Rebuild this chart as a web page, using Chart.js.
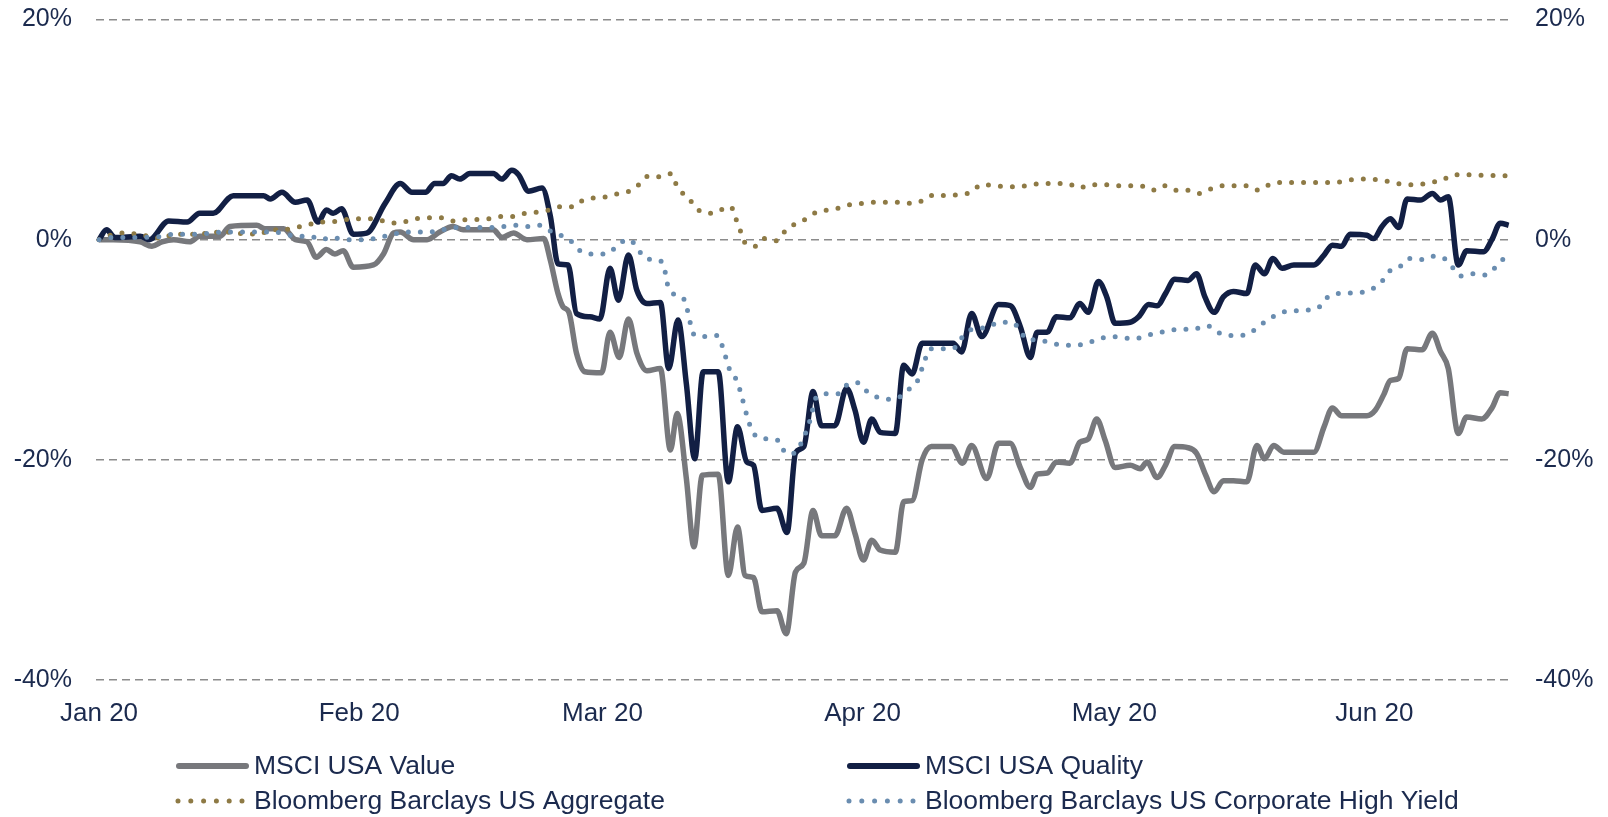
<!DOCTYPE html>
<html>
<head>
<meta charset="utf-8">
<title>MSCI USA factors vs bonds, 2020</title>
<script src="https://cdn.jsdelivr.net/npm/chart.js@4.4.1/dist/chart.umd.min.js"></script>
<style>
  html, body { margin: 0; padding: 0; background: #fff; }
  #wrap { width: 1608px; height: 817px; }
</style>
</head>
<body>
<div id="wrap"><canvas id="lineChart" width="1608" height="817"></canvas></div>
<script>
// x = days since 1 Jan 2020, y = cumulative return in %
const monthDays = [0, 31, 60, 91, 121, 152];
const monthLabels = ['Jan 20', 'Feb 20', 'Mar 20', 'Apr 20', 'May 20', 'Jun 20'];

const valueDays = [0, 1.7, 4.9, 6.3, 7.5, 8.9, 10.8, 12, 14.4, 15.6, 18.8, 19.8, 22, 23.4, 24.8, 25.9, 27.1, 28.1, 29.1, 30.3,
  32.7, 33.9, 35.1, 35.9, 37.5, 39.1, 40.6, 42.2, 43.4, 47, 48, 49.4, 51, 53, 53.8, 54.7, 55.3, 56, 56.9, 57.9,
  59.9, 60.9, 62, 63.1, 64.1, 65.3, 66.9, 68.1, 68.9, 70, 70.9, 71.9, 73.8, 75, 76.1, 77, 78, 79, 80.8, 81.9,
  83, 84, 85.1, 86.1, 87.7, 89.1, 90.1, 91.1, 92.1, 93.1, 94.9, 95.9, 96.9, 98.1, 99.2, 101.6, 102.9, 104, 105.8, 107.2,
  108.6, 109.8, 111, 111.8, 113, 114.1, 115.7, 116.9, 117.9, 118.9, 119.9, 121.1, 122.9, 124.1, 124.9, 126.1, 127.1, 128.2, 129.8, 130.8,
  131.9, 132.9, 134, 135.2, 136.8, 138, 138.9, 140, 141.2, 144.8, 146, 147, 148.1, 151.1, 152.1, 153.1, 153.9, 154.9, 155.9, 157.7,
  158.9, 159.9, 160.8, 162, 163, 164.8, 166, 167, 168];
const valueSeries = [0, 0, -0.2, -0.6, -0.2, 0, -0.2, 0.3, 0.3, 1.2, 1.3, 1.0, 1.0, 0, -0.2, -1.6, -0.9, -1.3, -1.0, -2.5,
  -2.3, -1.3, 0.6, 0.7, 0, 0, 0.7, 1.2, 0.9, 0.9, 0.2, 0.6, 0, 0.1, -1.9, -4.9, -6.1, -6.6, -10.3, -12.0,
  -12.1, -8.4, -10.7, -7.2, -10.3, -11.9, -11.7, -19.1, -15.8, -21.7, -27.9, -21.4, -21.3, -30.5, -26.1, -30.5, -30.7, -33.8, -33.7, -35.8,
  -30.2, -29.4, -24.6, -26.9, -26.9, -24.4, -26.7, -29.1, -27.3, -28.2, -28.4, -23.8, -23.7, -20.0, -18.8, -18.8, -20.3, -18.7, -21.7, -18.5,
  -18.5, -20.7, -22.5, -21.3, -21.2, -20.2, -20.3, -18.4, -18.1, -16.3, -18.2, -20.7, -20.5, -20.8, -20.2, -21.6, -20.5, -18.8, -18.9, -19.4,
  -21.4, -22.9, -21.9, -21.9, -22.0, -18.7, -19.9, -18.7, -19.3, -19.3, -17.0, -15.3, -16.0, -16.0, -15.5, -14.1, -12.8, -12.6, -9.9, -10.0,
  -8.5, -10.2, -11.7, -17.6, -16.1, -16.3, -15.3, -13.9, -14.0];

const qualityDays = [0, 0.9, 1.9, 4.9, 6, 8.3, 10.5, 12, 13.6, 16, 19.6, 20.4, 21.8, 23.4, 24.8, 26.1, 27.1, 27.9, 28.9, 30.3,
  31.9, 34.1, 35.9, 37.3, 38.9, 40, 41, 42, 43, 44.2, 47, 48, 49.2, 50, 51.2, 52.8, 53.8, 54.7, 55.9, 56.9,
  58.5, 59.7, 60.9, 61.9, 63.1, 64.1, 65.3, 66.9, 67.9, 69, 70, 71, 72, 73.8, 75, 76.1, 77.2, 78, 79, 80.8,
  82, 83, 84, 85.1, 86.1, 87.7, 89.1, 90.1, 91.1, 92.1, 93.1, 94.9, 95.9, 96.9, 98.1, 101.8, 102.8, 104, 105.2, 107.2,
  108.6, 109.8, 111, 111.8, 113, 114.1, 115.7, 116.9, 117.9, 119.1, 120.1, 121.1, 122.9, 123.9, 125.1, 126.1, 127.1, 128.2, 129.8, 130.8,
  131.8, 132.9, 134, 135.2, 136.8, 137.8, 138.9, 139.9, 141, 142.4, 144.8, 146, 147, 148.1, 149.1, 151.1, 151.9, 152.9, 153.9, 154.9,
  155.9, 157.5, 158.9, 159.9, 160.8, 162, 163, 165, 166, 167, 168];
const qualitySeries = [0, 0.9, 0.2, 0.3, 0, 1.7, 1.6, 2.4, 2.4, 4.0, 4.0, 3.7, 4.3, 3.4, 3.6, 1.6, 2.7, 2.4, 2.8, 0.5,
  0.6, 3.3, 5.1, 4.3, 4.3, 5.1, 5.1, 5.8, 5.5, 6.0, 6.0, 5.5, 6.3, 5.9, 4.4, 4.7, 2.1, -2.2, -2.3, -6.7,
  -7.0, -7.2, -2.6, -5.5, -1.4, -4.6, -5.8, -5.7, -11.7, -7.3, -13.1, -19.9, -12.0, -12.0, -22.0, -17.0, -20.2, -20.5, -24.6, -24.4,
  -26.6, -19.4, -18.8, -13.8, -16.9, -16.9, -13.5, -15.5, -18.4, -16.3, -17.5, -17.6, -11.4, -12.2, -9.4, -9.4, -10.2, -6.7, -8.8, -5.9,
  -6.0, -7.9, -10.7, -8.4, -8.4, -7.0, -7.1, -5.8, -6.6, -3.8, -5.2, -7.6, -7.5, -7.0, -5.9, -6.0, -4.9, -3.6, -3.7, -3.1,
  -5.2, -6.6, -5.2, -4.7, -4.9, -2.3, -3.1, -1.7, -2.6, -2.3, -2.3, -1.4, -0.5, -0.6, 0.5, 0.4, 0.1, 1.2, 1.9, 1.1,
  3.7, 3.6, 4.2, 3.6, 3.9, -2.3, -1.0, -1.1, 0, 1.5, 1.3];

const aggregateDays = [0, 1.3, 2.9, 4.5, 6, 7.5, 8.9, 11.6, 13.2, 14.8, 16.2, 19, 20.6, 22, 23.4, 24.8, 26.1, 27.5, 29.1, 30.5,
  32, 33.4, 34.9, 36.3, 37.7, 40.6, 42, 43.4, 46.4, 47.8, 49.4, 50.8, 52.2, 53.7, 55.1, 56.5, 57.7, 59.1, 60.5, 61.9,
  63.2, 64.5, 65.5, 66.9, 68.2, 68.8, 69.7, 70.8, 71.8, 73.2, 74.4, 75.3, 75.9, 76.4, 76.9, 78.2, 79.3, 80.7, 81.8, 82.9,
  84.3, 85.5, 86.9, 88.3, 89.6, 91, 92.5, 95.4, 96.9, 98.3, 99.6, 101, 102.5, 103.9, 105.2, 106.7, 109.6, 111, 114, 115.4,
  116.8, 118.3, 119.7, 121.2, 124.1, 125.6, 126.9, 128.2, 129.7, 131.1, 132.5, 133.9, 136.8, 138.2, 139.5, 141.1, 146.9, 148.4, 149.8, 151.3,
  152.8, 154.2, 155.7, 157.2, 158.6, 160.1, 161.4, 168];
const aggregateSeries = [0, 0.4, 0.6, 0.5, 0.3, 0.1, 0.5, 0.5, 0.6, 0.7, 0.6, 0.5, 0.9, 0.9, 1.1, 1.3, 1.6, 1.6, 1.8, 1.9,
  1.9, 1.8, 1.5, 1.6, 1.9, 2.0, 1.7, 1.8, 1.9, 2.1, 2.1, 2.4, 2.5, 2.7, 3.0, 3.0, 3.6, 3.8, 3.9, 4.2,
  4.4, 5.1, 5.8, 5.7, 6.0, 5.0, 4.1, 3.3, 2.5, 2.4, 2.8, 3.0, 1.9, 0.9, -0.2, -0.6, 0.1, -0.1, 0.8, 1.4,
  1.9, 2.5, 2.7, 2.9, 3.2, 3.3, 3.4, 3.4, 3.3, 3.6, 4.1, 4.0, 4.1, 4.3, 5.0, 4.9, 4.8, 5.0, 5.1, 5.1,
  4.7, 5.0, 5.0, 4.9, 4.9, 4.5, 4.9, 4.5, 4.5, 4.2, 4.6, 4.9, 4.9, 4.5, 5.0, 5.2, 5.2, 5.3, 5.5, 5.5,
  5.4, 5.2, 5.0, 5.0, 5.2, 5.4, 5.9, 5.8];

const highYieldDays = [0, 1.5, 4.5, 7.5, 8.9, 11.8, 13.4, 14.8, 20.8, 22.2, 23.8, 25.1, 26.5, 27.7, 29.3, 31.9, 33.4, 35.1, 36.6, 39.5,
  41, 42.4, 46.8, 48.2, 49.7, 51.2, 52.6, 54, 55.3, 56.5, 57.5, 58.9, 60.4, 61.6, 62.9, 64.1, 64.8, 66, 67.2, 67.8,
  68.6, 69.7, 71, 72.3, 73.7, 74.3, 75.2, 76, 77.7, 78.6, 80, 81.2, 81.8, 82.8, 83.6, 84.7, 85.5, 86.7, 88.1, 89.3,
  90.4, 91.4, 92.7, 94.1, 95.4, 96.5, 97.5, 98.4, 99, 101.8, 102.7, 104.2, 105.8, 107.3, 108.8, 110.8, 112.1, 113.4, 116.3, 117.8,
  119.2, 120.6, 122, 123.5, 124.8, 126.2, 127.7, 130.6, 132, 133.3, 134.6, 136.1, 137.3, 138.5, 139.7, 141, 143.9, 145.3, 146.3, 147.5,
  150.4, 151.9, 153, 153.9, 155.1, 156.2, 157.6, 159, 160.5, 161.4, 162.3, 163.7, 165.2, 166.3, 167.3, 168];
const highYieldSeries = [0, 0.2, 0.2, 0.3, 0.5, 0.5, 0.6, 0.7, 0.7, 0.5, 0.3, 0.3, 0, 0.2, 0, 0, 0.2, 0.5, 0.7, 0.7,
  0.9, 1.1, 1.1, 1.2, 1.3, 1.2, 1.3, 0.7, 0.3, -0.3, -1.1, -1.3, -1.3, -0.7, 0, -0.6, -1.5, -1.8, -2.1, -4.2,
  -5.0, -5.4, -8.7, -8.8, -8.7, -9.7, -11.9, -12.8, -17.1, -18.0, -18.1, -18.4, -19.4, -19.4, -18.6, -16.5, -14.3, -14.0, -14.0, -13.1,
  -13.0, -13.7, -14.3, -14.5, -14.3, -13.6, -12.9, -11.0, -9.9, -9.9, -9.0, -8.1, -8.0, -7.5, -7.5, -9.1, -9.1, -9.4, -9.6, -9.4,
  -9.0, -8.8, -8.9, -9.0, -8.7, -8.5, -8.2, -8.1, -7.8, -8.4, -8.7, -8.7, -8.4, -7.7, -7.1, -6.6, -6.4, -6.2, -5.3, -4.9,
  -4.8, -4.4, -3.7, -2.8, -2.4, -1.7, -1.8, -1.5, -1.8, -2.6, -3.3, -3.1, -3.2, -2.6, -1.8, -1.6];

const toPoints = (days, vals) => days.map((d, i) => ({x: d, y: vals[i]}));

const textColor = '#1b2a4e';
Chart.defaults.font.family = '"Liberation Sans", Arial, sans-serif';
Chart.defaults.color = textColor;

// legend drawn in two fixed columns below the axis, like the original
const twoColLegend = {
  id: 'twoColLegend',
  afterDraw(chart) {
    const ctx = chart.ctx;
    const slots = [[176, 766], [847, 766], [176, 801], [847, 801]];
    ctx.save();
    ctx.font = '26.5px "Liberation Sans", Arial, sans-serif';
    ctx.textBaseline = 'middle';
    chart.data.datasets.forEach((ds, k) => {
      const [x, y] = slots[k];
      ctx.beginPath();
      ctx.strokeStyle = ds.borderColor;
      ctx.lineCap = 'round';
      if (ds.borderDash && ds.borderDash.length) {
        ctx.lineWidth = 5;
        ctx.setLineDash([0, 12.8]);
        ctx.moveTo(x + 2, y);
        ctx.lineTo(x + 67, y);
      } else {
        ctx.lineWidth = 6;
        ctx.setLineDash([]);
        ctx.moveTo(x + 3, y);
        ctx.lineTo(x + 70, y);
      }
      ctx.stroke();
      ctx.setLineDash([]);
      ctx.fillStyle = textColor;
      ctx.fillText(ds.label, x + 78, y + 1);
    });
    ctx.restore();
  }
};

const ctx = document.getElementById('lineChart').getContext('2d');
const lineChart = new Chart(ctx, {
  type: 'line',
  data: {
    datasets: [{
      label: 'MSCI USA Value',
      data: toPoints(valueDays, valueSeries),
      borderColor: '#77787c',
      borderWidth: 5.5,
      order: 3,
    }, {
      label: 'MSCI USA Quality',
      data: toPoints(qualityDays, qualitySeries),
      borderColor: '#121f44',
      borderWidth: 5.5,
      order: 2,
    }, {
      label: 'Bloomberg Barclays US Aggregate',
      data: toPoints(aggregateDays, aggregateSeries),
      borderColor: '#8e7a45',
      borderWidth: 5,
      borderDash: [0, 12],
      borderCapStyle: 'round',
      order: 1,
    }, {
      label: 'Bloomberg Barclays US Corporate High Yield',
      data: toPoints(highYieldDays, highYieldSeries),
      borderColor: '#6a8db0',
      borderWidth: 5,
      borderDash: [0, 12],
      borderCapStyle: 'round',
      order: 0,
    }]
  },
  options: {
    responsive: false,
    devicePixelRatio: 1,
    animation: false,
    layout: {padding: {left: 0, right: 0, top: 19.5, bottom: 0}},
    elements: {
      point: {radius: 0},
      line: {cubicInterpolationMode: 'monotone', borderJoinStyle: 'round'}
    },
    plugins: {
      legend: {display: false},
      tooltip: {enabled: false}
    },
    scales: {
      x: {
        type: 'linear',
        min: -0.36,
        max: 168.4,
        grid: {display: false},
        border: {display: false},
        afterFit: (s) => { s.height = 137; },
        afterBuildTicks: (s) => { s.ticks = monthDays.map(v => ({value: v})); },
        ticks: {
          autoSkip: false,
          maxRotation: 0,
          padding: 10,
          font: {size: 26},
          callback: (v) => monthLabels[monthDays.indexOf(v)]
        }
      },
      y: {
        position: 'left',
        min: -40,
        max: 20,
        afterFit: (s) => { s.width = 96; },
        // tick marks are invisible; their length just spaces the labels
        grid: {color: '#8b8b8b', lineWidth: 1.5, drawTicks: true, tickLength: 24, tickColor: 'rgba(0,0,0,0)'},
        border: {display: false, dash: [8, 5]},
        ticks: {stepSize: 20, padding: 0, font: {size: 25}, callback: (v) => v + '%'}
      },
      y2: {
        position: 'right',
        min: -40,
        max: 20,
        afterFit: (s) => { s.width = 96; },
        grid: {drawOnChartArea: false, drawTicks: true, tickLength: 23, tickColor: 'rgba(0,0,0,0)'},
        border: {display: false},
        ticks: {stepSize: 20, padding: 0, font: {size: 25}, callback: (v) => v + '%'}
      }
    }
  },
  plugins: [twoColLegend]
});
</script>
</body>
</html>
